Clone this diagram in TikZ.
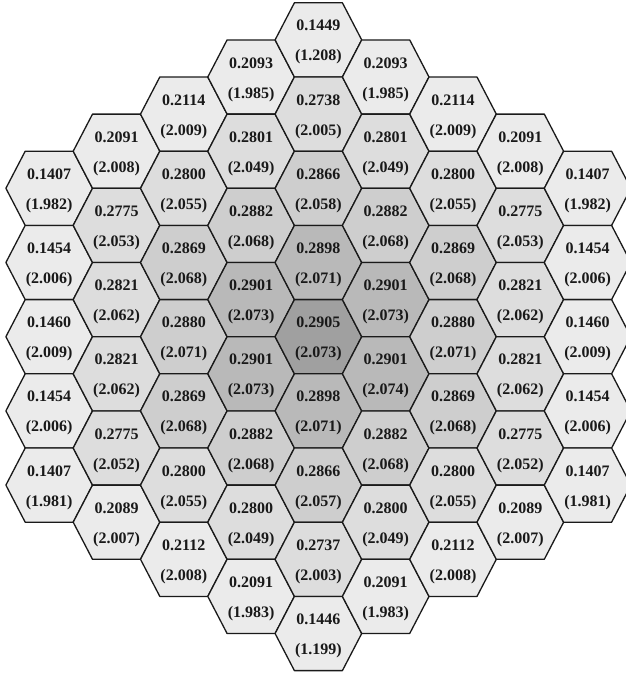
\documentclass[tikz,border=0pt]{standalone}
\usepackage{fontspec}
\setmainfont{Liberation Serif}
\definecolor{ring0}{HTML}{A0A0A0}
\definecolor{ring1}{HTML}{B9B9B9}
\definecolor{ring2}{HTML}{CECECE}
\definecolor{ring3}{HTML}{DDDDDD}
\definecolor{ring4}{HTML}{EBEBEB}
\definecolor{edgecol}{HTML}{1A1A1A}
\begin{document}
\begin{tikzpicture}[x=1pt,y=-1pt,
  hexcell/.style={draw=edgecol, line width=1.3pt, line join=round},
  valtext/.style={font=\fontsize{16}{16}\selectfont\bfseries, anchor=base, inner sep=0pt, text=black!90},
]
\useasboundingbox (0,0) rectangle (626,675);
\def\hw{43.3}
\def\he{24}
\def\hh{37.1}
\foreach \q/\vals in {
  -4/{0.1407/1.982, 0.1454/2.006, 0.1460/2.009, 0.1454/2.006, 0.1407/1.981},
  -3/{0.2091/2.008, 0.2775/2.053, 0.2821/2.062, 0.2821/2.062, 0.2775/2.052, 0.2089/2.007},
  -2/{0.2114/2.009, 0.2800/2.055, 0.2869/2.068, 0.2880/2.071, 0.2869/2.068, 0.2800/2.055, 0.2112/2.008},
  -1/{0.2093/1.985, 0.2801/2.049, 0.2882/2.068, 0.2901/2.073, 0.2901/2.073, 0.2882/2.068, 0.2800/2.049, 0.2091/1.983},
   0/{0.1449/1.208, 0.2738/2.005, 0.2866/2.058, 0.2898/2.071, 0.2905/2.073, 0.2898/2.071, 0.2866/2.057, 0.2737/2.003, 0.1446/1.199},
   1/{0.2093/1.985, 0.2801/2.049, 0.2882/2.068, 0.2901/2.073, 0.2901/2.074, 0.2882/2.068, 0.2800/2.049, 0.2091/1.983},
   2/{0.2114/2.009, 0.2800/2.055, 0.2869/2.068, 0.2880/2.071, 0.2869/2.068, 0.2800/2.055, 0.2112/2.008},
   3/{0.2091/2.008, 0.2775/2.053, 0.2821/2.062, 0.2821/2.062, 0.2775/2.052, 0.2089/2.007},
   4/{0.1407/1.982, 0.1454/2.006, 0.1460/2.009, 0.1454/2.006, 0.1407/1.981}} {
  \foreach \v/\p [count=\i from 0] in \vals {
    \pgfmathsetmacro\cx{318.4+67.3*\q}
    \pgfmathsetmacro\yo{\i-(8-abs(\q))/2}
    \pgfmathsetmacro\cy{336.7+74.2*\yo}
    \pgfmathsetmacro\rr{\yo-\q/2}
    \pgfmathtruncatemacro\ring{round((abs(\q)+abs(\rr)+abs(\q+\rr))/2)}
    \pgfmathtruncatemacro\c{\q+4}
    \path[hexcell, fill=ring\ring]
      (\cx-\hw,\cy) -- (\cx-\he,\cy-\hh) -- (\cx+\he,\cy-\hh) --
      (\cx+\hw,\cy) -- (\cx+\he,\cy+\hh) -- (\cx-\he,\cy+\hh) -- cycle;
    \node[valtext] (v\c-\i) at (\cx,\cy-9) {\v};
    \node[valtext] (p\c-\i) at (\cx,\cy+21) {(\p)};
  }
}
\end{tikzpicture}
\end{document}
